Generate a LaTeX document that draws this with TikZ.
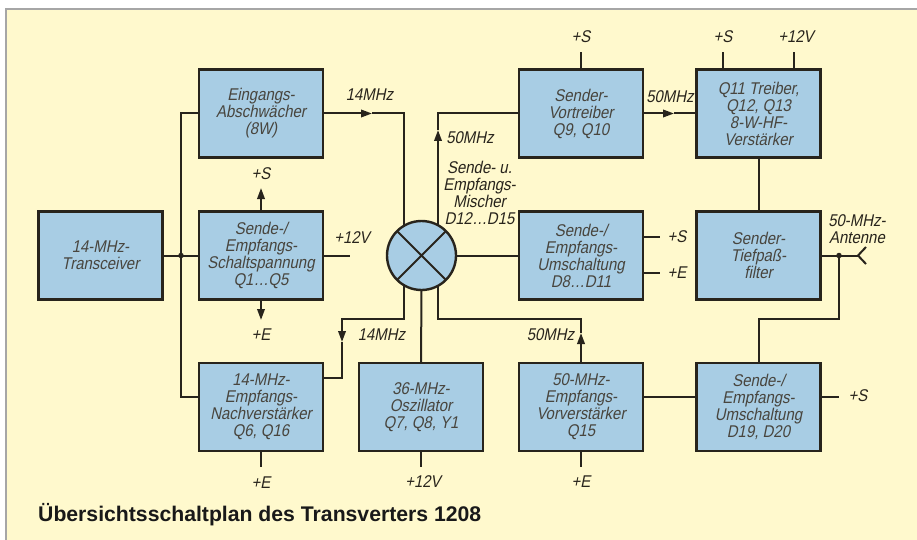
\documentclass[tikz,border=0pt]{standalone}
\usepackage{fontspec}
\setmainfont{Liberation Sans}
\newfontfamily\boxfnt{Liberation Sans}[FakeStretch=0.88, FakeSlant=0.2]
\usetikzlibrary{arrows.meta,shadows}
\definecolor{bgy}{RGB}{255,249,205}
\definecolor{bxb}{RGB}{168,205,228}
\definecolor{ln}{RGB}{40,36,28}
\begin{document}
\begin{tikzpicture}[x=1pt,y=-1pt,
 blk/.style={draw=ln, line width=2.4pt, fill=bxb, minimum width=124pt, minimum height=88pt, align=center, inner sep=1pt,
   font=\boxfnt\fontsize{17}{17}\selectfont, text=ln!85,
   drop shadow={shadow xshift=1.4pt,shadow yshift=-1.4pt,fill=ln,opacity=0.8}},
 lbl/.style={font=\boxfnt\fontsize{17}{17}\selectfont, text=ln, inner sep=0pt, align=center},
 wire/.style={draw=ln, line width=2pt},
 tri/.style={wire, -{Triangle[length=11pt,width=7.5pt]}},
 jdot/.style={circle, fill=ln, inner sep=0pt, minimum size=5.5pt}]
\useasboundingbox (0,0) rectangle (917,540);
\fill[bgy] (6,9) rectangle (917,540);
\draw[gray!70, line width=1.5pt] (6,540) -- (6,9) -- (917,9);

% boxes
\node[blk] (trx) at (100.5,255.5) {14-MHz-\\Transceiver};
\node[blk] (eing) at (261,113.5) {Eingangs-\\Abschwächer\\(8W)};
\node[blk] (schalt) at (261,255.5) {Sende-/\\Empfangs-\\Schaltspannung\\Q1…Q5};
\node[blk] (nach) at (261,407) {14-MHz-\\Empfangs-\\Nachverstärker\\Q6, Q16};
\node[blk] (osz) at (421,407) {36-MHz-\\Oszillator\\Q7, Q8, Y1};
\node[blk] (vort) at (581,113.5) {Sender-\\Vortreiber\\Q9, Q10};
\node[blk] (q11) at (758.5,113.5) {Q11 Treiber,\\Q12, Q13\\8-W-HF-\\Verstärker};
\node[blk] (umsch) at (581,255.5) {Sende-/\\Empfangs-\\Umschaltung\\D8…D11};
\node[blk] (tief) at (758.5,255.5) {Sender-\\Tiefpaß-\\filter};
\node[blk] (vor) at (581,407) {50-MHz-\\Empfangs-\\Vorverstärker\\Q15};
\node[blk] (d19) at (758.5,407) {Sende-/\\Empfangs-\\Umschaltung\\D19, D20};

% mixer
\node[circle, draw=ln, line width=2.4pt, fill=bxb, minimum size=69pt, inner sep=0pt, outer sep=0pt] (mix) at (421.5,255.5) {};
\draw[wire] (mix.45) -- (mix.225) (mix.135) -- (mix.315);

% left bus
\coordinate (jt) at (181,113.5);
\coordinate (jd) at (181,255.5);
\coordinate (jb) at (181,397);
\draw[wire] (trx.east) -- (schalt.west);
\draw[wire] (eing.west) -- (jt) -- (jb) -- (nach.west |- jb);
\node[jdot] (jdt) at (jd) {};

% Eingang -> mixer
\coordinate (a1) at (372,113.5);
\coordinate (c1) at (404,113.5);
\draw[tri] (eing.east) -- (a1);
\draw[wire] (a1) -- (c1) -- (c1 |- mix.120.6);
\node[lbl] (l14a) at (369.5,95) {14MHz};

% mixer -> Vortreiber
\coordinate (c2) at (438,113.5);
\coordinate (a2) at (438,130);
\draw[tri] (c2 |- mix.59.4) -- (a2);
\draw[wire] (a2) -- (c2) -- (vort.west);
\node[lbl] (l50a) at (470,138) {50MHz};
\node[lbl] (lmix) at (479.5,193) {Sende- u.\\Empfangs-\\Mischer\\D12…D15};

% Vortreiber -> Q11
\coordinate (a3) at (674,113.5);
\draw[tri] (vort.east) -- (a3);
\draw[wire] (a3) -- (q11.west);
\node[lbl] (l50b) at (670,97) {50MHz};

% Schaltspannung
\coordinate (a4) at (261,188);
\draw[tri] (schalt.north) -- (a4);
\node[lbl] (ls1) at (261,174) {+S};
\coordinate (a5) at (261,320);
\draw[tri] (schalt.south) -- (a5);
\node[lbl] (le1) at (261,335) {+E};
\coordinate (e1) at (350,255.5);
\draw[wire] (schalt.east) -- (e1);
\node[lbl] (l12a) at (352,238) {+12V};

% mixer -> Umschaltung
\draw[wire] (mix.east) -- (umsch.west);

% mixer -> Nachverstaerker
\coordinate (b1) at (404,319);
\coordinate (b2) at (342,319);
\coordinate (a6) at (342,342);
\coordinate (b3) at (342,378);
\draw[tri] (b1 |- mix.-120.6) -- (b1) -- (b2) -- (a6);
\draw[wire] (a6) -- (b3) -- (nach.east |- b3);
\node[lbl] (l14b) at (381.5,335) {14MHz};

% oscillator
\draw[wire] (osz.north) -- (mix.south);
\coordinate (e2) at (421,467);
\draw[wire] (osz.south) -- (e2);
\node[lbl] (l12b) at (423,482) {+12V};

% mixer -> Vorverstaerker
\coordinate (b4) at (438,319);
\coordinate (b5) at (581,319);
\coordinate (a7) at (581,333);
\draw[wire] (b4 |- mix.-59.4) -- (b4) -- (b5) -- (a7);
\draw[tri] (vor.north) -- (a7);
\node[lbl] (l50c) at (550.5,335) {50MHz};

% Vorverstaerker -> D19
\coordinate (h1) at (650,397);
\draw[wire] (vor.east |- h1) -- (d19.west |- h1);
\coordinate (e3) at (581,467);
\draw[wire] (vor.south) -- (e3);
\node[lbl] (le3) at (581,482) {+E};
\coordinate (e4) at (261,467);
\draw[wire] (nach.south) -- (e4);
\node[lbl] (le4) at (261,483) {+E};

% Umschaltung D8..D11
\coordinate (e5) at (660,237);
\coordinate (e6) at (660,273);
\draw[wire] (umsch.east |- e5) -- (e5);
\draw[wire] (umsch.east |- e6) -- (e6);
\node[lbl] (ls5) at (677,237) {+S};
\node[lbl] (le6) at (677,273) {+E};

% top supplies
\coordinate (e7) at (581,52);
\coordinate (e8) at (723,52);
\coordinate (e9) at (794,52);
\draw[wire] (vort.north) -- (e7);
\draw[wire] (q11.north -| e8) -- (e8);
\draw[wire] (q11.north -| e9) -- (e9);
\node[lbl] (ls7) at (581,37) {+S};
\node[lbl] (ls8) at (723,37) {+S};
\node[lbl] (l12c) at (796,37) {+12V};

% Q11 -> Tiefpass
\draw[wire] (q11.south) -- (tief.north);

% antenna
\coordinate (ant) at (858,255.5);
\coordinate (antu) at (866,247);
\coordinate (antd) at (866,264);
\coordinate (adot) at (839,255.5);
\draw[wire] (tief.east) -- (ant);
\draw[wire] (antu) -- (ant) -- (antd);
\node[jdot] (adt) at (adot) {};
\node[lbl] (lant) at (857,229) {50-MHz-\\Antenne};
\coordinate (g1) at (839,319);
\coordinate (g2) at (758.5,319);
\draw[wire] (adot) -- (g1) -- (g2) -- (d19.north);

% D19 +S
\coordinate (e10) at (839,397);
\draw[wire] (d19.east |- e10) -- (e10);
\node[lbl] (ls10) at (858,396) {+S};

% caption
\node[anchor=base west, inner sep=0pt, font=\bfseries\fontsize{21.2}{24}\selectfont, text=black!90] (cap) at (38,521) {Übersichtsschaltplan des Transverters 1208};
\end{tikzpicture}
\end{document}
